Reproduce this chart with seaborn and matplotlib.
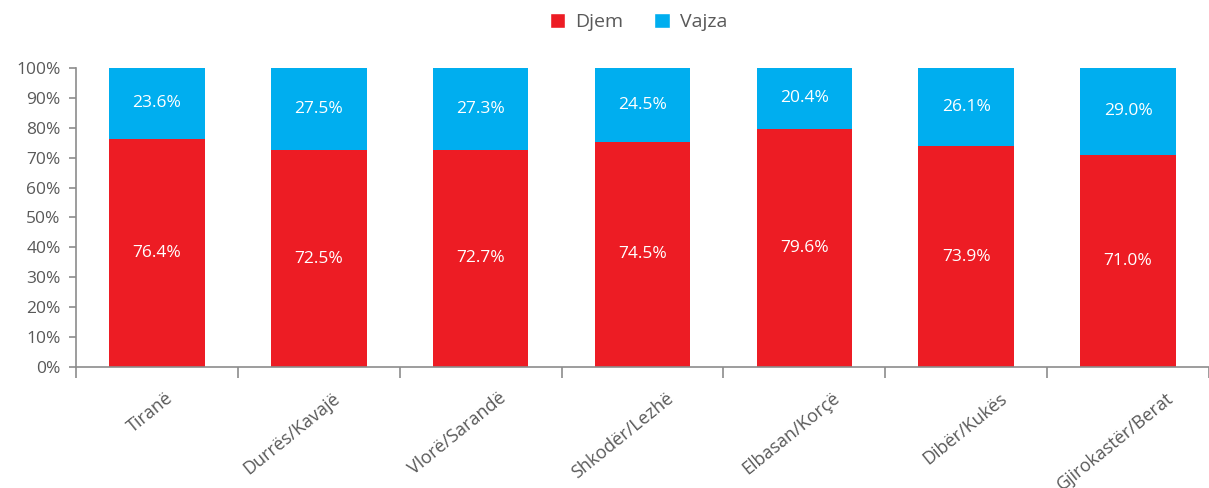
import numpy as np
import pandas as pd
import matplotlib
matplotlib.use("Agg")
import matplotlib.pyplot as plt
import matplotlib.transforms as mtransforms
from matplotlib.patches import Patch
import seaborn as sns

regions = ["Tiranë", "Durrës/Kavajë", "Vlorë/Sarandë", "Shkodër/Lezhë",
           "Elbasan/Korçë", "Dibër/Kukës", "Gjirokastër/Berat"]
djem = [76.4, 72.5, 72.7, 74.5, 79.6, 73.9, 71.0]
vajza = [23.6, 27.5, 27.3, 24.5, 20.4, 26.1, 29.0]

red = "#ED1C24"
blue = "#00AEEF"
grey = "#595959"
axis_grey = "#8c8c8c"

# 100% stacked: shares normalised to the row total
df = pd.DataFrame({"region": regions, "Djem": djem, "Vajza": vajza})
tot = df["Djem"] + df["Vajza"]
df["djem_share"] = df["Djem"] / tot * 100
df["full"] = 100.0

sns.set_style("white")
plt.rcParams["font.family"] = ["Open Sans", "DejaVu Sans"]
plt.rcParams["xtick.bottom"] = True
plt.rcParams["ytick.left"] = True

fig = plt.figure(figsize=(12.09, 4.88), dpi=100)
ax = fig.add_axes([76 / 1209, 1 - 367 / 488, 1 - 76 / 1209, (367 - 68) / 488])

sns.barplot(data=df, x="region", y="full", color=blue, saturation=1,
            width=0.59, linewidth=0, ax=ax)
sns.barplot(data=df, x="region", y="djem_share", color=red, saturation=1,
            width=0.59, linewidth=0, ax=ax)

for i, row in df.iterrows():
    s = row["djem_share"]
    ax.text(i, s / 2, f"{row['Djem']:.1f}%", ha="center", va="center",
            color="white", fontsize=12.5)
    ax.text(i, s + (100 - s) / 2, f"{row['Vajza']:.1f}%", ha="center", va="center",
            color="white", fontsize=12.5)

ax.set_ylim(0, 100)
ax.set_xlim(-0.5, 6.44)
ax.set_yticks(np.arange(0, 101, 10))
ax.set_yticklabels([f"{t}%" for t in range(0, 101, 10)], fontsize=12.5, color=grey)
ax.set_xlabel("")
ax.set_ylabel("")

# labels sit on the bar centres, tick marks go on the category boundaries
ax.set_xticks(range(len(regions)))
ax.set_xticklabels(regions, rotation=39, ha="right", rotation_mode="anchor",
                   fontsize=13, color=grey)
ax.tick_params(axis="x", which="major", length=0, pad=16)
ax.set_xticks(np.arange(-0.5, len(regions), 1), minor=True)
ax.tick_params(axis="x", which="minor", bottom=True, length=8, width=1.2,
               color=axis_grey, direction="out")
ax.tick_params(axis="y", length=5, width=1.2, color=axis_grey, direction="out",
               left=True, pad=6)

# labels drift a little to the right across the axis in the original
for i, lab in enumerate(ax.get_xticklabels()):
    offset = mtransforms.ScaledTranslation((8 + 5 * i) / 100, 0, fig.dpi_scale_trans)
    lab.set_transform(lab.get_transform() + offset)

sns.despine(ax=ax, top=True, right=True)
for side in ["left", "bottom"]:
    ax.spines[side].set_color(axis_grey)
    ax.spines[side].set_linewidth(1.2)

handles = [Patch(facecolor=red, label="Djem"), Patch(facecolor=blue, label="Vajza")]
fig.legend(handles=handles, loc="center", bbox_to_anchor=(0.528, 0.955), ncol=2,
           frameon=False, fontsize=14, handlelength=0.8, handleheight=0.8,
           handletextpad=0.5, columnspacing=1.6, labelcolor=grey)

fig.savefig("out.png", dpi=100)
